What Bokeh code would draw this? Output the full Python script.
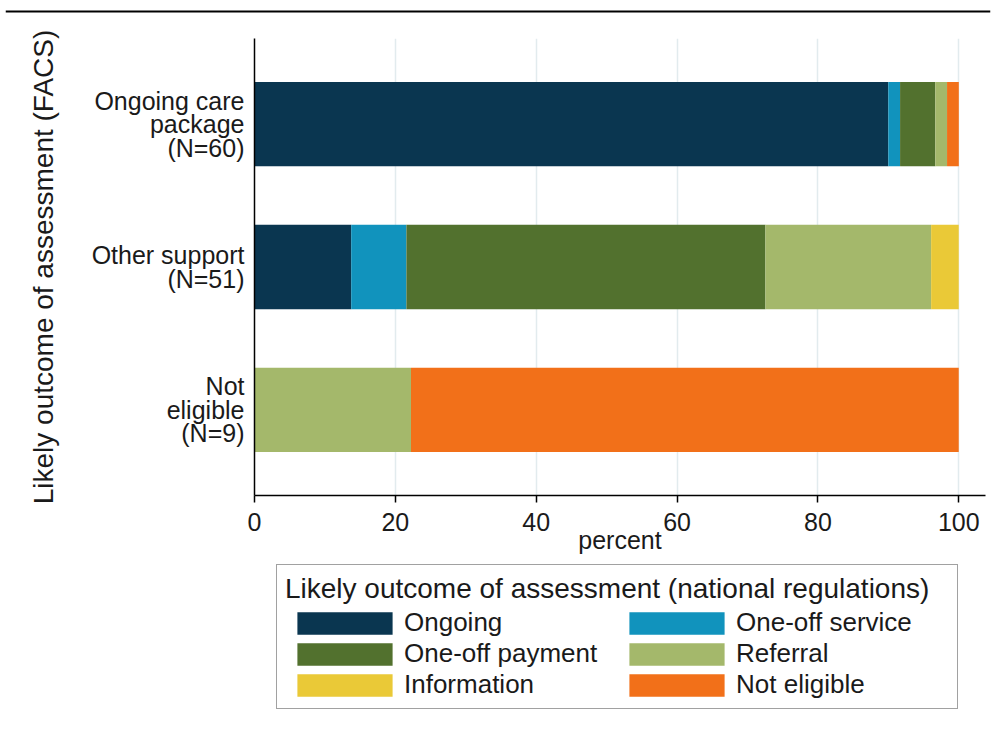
from bokeh.plotting import figure
from bokeh.models import Range1d, FixedTicker, Legend, LegendItem, ColumnDataSource, Span
from bokeh.embed import file_html
from bokeh.resources import INLINE

FONT = "Liberation Sans"
TXT = "#1a1a1a"

# categories (top to bottom)
categories = ["Ongoing care\npackage\n(N=60)", "Other support\n(N=51)", "Not\neligible\n(N=9)"]

# series (percent of each category)
series_names = ["Ongoing", "One-off service", "One-off payment", "Referral", "Information", "Not eligible"]
ongoing = [90.0, 13.73, 0.0]
one_off_service = [1.67, 7.84, 0.0]
one_off_payment = [5.0, 50.98, 0.0]
referral = [1.67, 23.53, 22.22]
information = [0.0, 3.92, 0.0]
not_eligible = [1.67, 0.0, 77.78]
colors = ["#0a3650", "#1193bd", "#52712e", "#a4b86b", "#eac937", "#f27019"]

x_ticks = [0, 20, 40, 60, 80, 100]
x_label = "percent"
y_label = "Likely outcome of assessment (FACS)"
legend_title = "Likely outcome of assessment (national regulations)"

n = len(categories)
ypos = [n - i for i in range(n)]
keys = ["s0", "s1", "s2", "s3", "s4", "s5"]
series = [ongoing, one_off_service, one_off_payment, referral, information, not_eligible]
data = {"y": ypos}
for k, vals in zip(keys, series):
    data[k] = vals
source = ColumnDataSource(data)

# ---- thin top rule ----
p0 = figure(width=999, height=14, x_range=Range1d(0, 1), y_range=Range1d(0, 14),
            x_axis_type=None, y_axis_type=None, output_backend="svg", toolbar_location=None,
            min_border_left=5, min_border_right=9, min_border_top=0, min_border_bottom=0)
p0.outline_line_color = None
p0.xgrid.visible = False
p0.ygrid.visible = False
p0.add_layout(Span(location=3, dimension="width", line_color="#000000", line_width=2))

# ---- main chart ----
p = figure(width=999, height=550, x_range=Range1d(0, 103.8), y_range=Range1d(0.4, 3.6),
           output_backend="svg", toolbar_location=None,
           min_border_left=254, min_border_right=14, min_border_top=24, min_border_bottom=69)
p.outline_line_color = None

renderers = p.hbar_stack(keys, y="y", height=0.59, color=colors, line_color=None, source=source)

p.xaxis.ticker = FixedTicker(ticks=x_ticks)
p.xaxis.axis_label = x_label
p.xaxis.major_tick_out = 7
p.xaxis.major_tick_in = 0
p.xaxis.minor_tick_line_color = None
p.xaxis.major_label_standoff = 10
p.xaxis.axis_label_standoff = -8

p.yaxis.ticker = FixedTicker(ticks=ypos)
p.yaxis.major_label_overrides = {y: c for y, c in zip(ypos, categories)}
p.yaxis.axis_label = y_label
p.yaxis.major_tick_out = 0
p.yaxis.major_tick_in = 0
p.yaxis.minor_tick_line_color = None
p.yaxis.major_label_standoff = 10
p.yaxis.major_label_text_line_height = 0.84
p.yaxis.axis_label_standoff = 30

for ax in [p.xaxis[0], p.yaxis[0]]:
    ax.axis_line_color = "black"
    ax.axis_line_width = 1.5
    ax.major_tick_line_color = "black"
    ax.major_tick_line_width = 1.5
    ax.major_label_text_font = FONT
    ax.major_label_text_font_size = "25px"
    ax.major_label_text_color = TXT
    ax.axis_label_text_font = FONT
    ax.axis_label_text_font_style = "normal"
    ax.axis_label_text_color = TXT
p.xaxis.axis_label_text_font_size = "25px"
p.yaxis.axis_label_text_font_size = "28px"

p.xgrid.ticker = FixedTicker(ticks=x_ticks[1:])
p.xgrid.grid_line_color = "#e2ebee"
p.xgrid.grid_line_width = 1.5
p.ygrid.visible = False

# ---- legend panel (same series; its bars fall outside this panel's view) ----
p2 = figure(width=999, height=172, x_range=Range1d(0, 1), y_range=Range1d(10, 11),
            x_axis_type=None, y_axis_type=None, output_backend="svg", toolbar_location=None,
            min_border=0)
p2.outline_line_color = None
p2.xgrid.visible = False
p2.ygrid.visible = False
key_renderers = p2.hbar_stack(keys, y="y", height=0.59, color=colors, line_color=None, source=source)

legend = Legend(items=[LegendItem(label=nm, renderers=[r]) for nm, r in zip(series_names, key_renderers)],
                title=legend_title, orientation="horizontal", ncols=2, location=(276, 27))
legend.glyph_width = 119
legend.glyph_height = 28
legend.label_standoff = 0
legend.label_width = 213
legend.label_height = 28
legend.spacing = 0
legend.padding = 8
legend.margin = 0
legend.label_text_font = FONT
legend.label_text_font_size = "26px"
legend.label_text_color = TXT
legend.title_text_font = FONT
legend.title_text_font_size = "28px"
legend.title_text_font_style = "normal"
legend.title_text_color = TXT
legend.title_standoff = 2
legend.border_line_color = "#444444"
legend.border_line_width = 1
legend.background_fill_color = "white"
legend.background_fill_alpha = 1
p2.add_layout(legend, "center")

open("out.html", "w").write(file_html([p0, p, p2], INLINE))
